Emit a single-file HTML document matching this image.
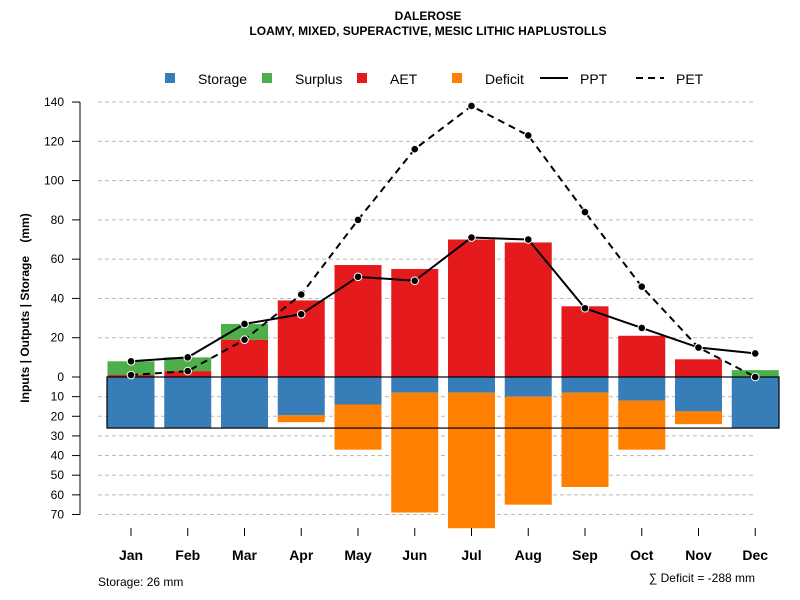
<!DOCTYPE html>
<html><head><meta charset="utf-8"><style>
body{margin:0;background:#fff;}
svg{display:block;font-family:"Liberation Sans",sans-serif;}
</style></head><body>
<svg id="c" width="800" height="600"></svg>
<script>
const months=["Jan","Feb","Mar","Apr","May","Jun","Jul","Aug","Sep","Oct","Nov","Dec"];
const aet=[1,3,19,39,57,55,70,68.5,36,21,9,0];
const surplus=[7,7,8,0,0,0,0,0,0,0,0,3.5];
const storage=[26,26,26,19.5,14,8,8,10,8,12,17.5,26];
const deficit=[0,0,0,3.5,23,61,69,55,48,25,6.5,0];
const ppt=[8,10,27,32,51,49,71,70,35,25,15,12];
const pet=[1,3,19,42,80,116,138,123,84,46,15,0];
const posTicks=[0,20,40,60,80,100,120,140];
const negTicks=[10,20,30,40,50,60,70];
const NS="http://www.w3.org/2000/svg";
const svg=document.getElementById('c');
const y=v=>377-v*1.964;
const x=i=>131+i*56.75;
const bw=47;
function mk(t,a,p){const e=document.createElementNS(NS,t);for(const k in a)e.setAttribute(k,a[k]);(p||svg).appendChild(e);return e;}
function txt(s,a){const e=mk('text',a);e.textContent=s;return e;}
let t=txt("DALEROSE",{x:428,y:20,'text-anchor':'middle','font-size':12,'font-weight':'bold'});

t=txt("LOAMY, MIXED, SUPERACTIVE, MESIC LITHIC HAPLUSTOLLS",{x:428,y:35,'text-anchor':'middle','font-size':12,'font-weight':'bold'});

posTicks.concat(negTicks.map(v=>-v)).forEach(v=>{if(v===0)return;
 const g=mk('line',{x1:98,x2:756,y1:y(v),y2:y(v),stroke:'#bbb','stroke-dasharray':'4,3'});
 });
let ax=mk('line',{x1:80,x2:80,y1:y(140),y2:y(-70),stroke:'#000'});

posTicks.forEach(v=>{mk('line',{x1:72,x2:80,y1:y(v),y2:y(v),stroke:'#000'});
 const l=txt(String(v),{x:64,y:y(v)+4,'text-anchor':'end','font-size':12});
 });
negTicks.forEach(v=>{mk('line',{x1:72,x2:80,y1:y(-v),y2:y(-v),stroke:'#000'});
 const l=txt(String(v),{x:64,y:y(-v)+4,'text-anchor':'end','font-size':12});
 });
t=txt("Inputs | Outputs | Storage\u00a0\u00a0\u00a0\u00a0(mm)",{x:0,y:0,transform:'translate(29,308) rotate(-90)','text-anchor':'middle','font-size':12,'font-weight':'bold'});

months.forEach((m,i)=>{
 const x0=x(i)-bw/2;
 let r=mk('rect',{x:x0,y:y(aet[i]),width:bw,height:aet[i]*1.964,fill:'#e41a1c'});
 
 r=mk('rect',{x:x0,y:y(aet[i]+surplus[i]),width:bw,height:surplus[i]*1.964,fill:'#4daf4a'});
 
 r=mk('rect',{x:x0,y:y(0),width:bw,height:storage[i]*1.964,fill:'#377eb8'});
 
 r=mk('rect',{x:x0,y:y(-storage[i]),width:bw,height:deficit[i]*1.964,fill:'#ff7f00'});
 
 mk('line',{x1:x(i),x2:x(i),y1:528,y2:536,stroke:'#000'});
 const l=txt(m,{x:x(i),y:560,'text-anchor':'middle','font-size':14,'font-weight':'bold'});
 
});
let box=mk('rect',{x:107,y:y(0),width:672,height:26*1.964,fill:'none',stroke:'#000','stroke-width':1.2});

function line(arr,dash,name){
 const p=mk('polyline',{points:arr.map((v,i)=>x(i)+','+y(v)).join(' '),fill:'none',stroke:'#000','stroke-width':2,'stroke-dasharray':dash});
 
 arr.forEach((v,i)=>{const c=mk('circle',{cx:x(i),cy:y(v),r:3.8,fill:'#000',stroke:'#fff','stroke-width':1});
 });
}
line(pet,'7,5','pet');
line(ppt,'none','ppt');
const leg=[["Storage",'#377eb8',165,'sq'],["Surplus",'#4daf4a',262,'sq'],["AET",'#e41a1c',357,'sq'],["Deficit",'#ff7f00',452,'sq'],["PPT",'#000',540,'solid'],["PET",'#000',636,'dash']];
leg.forEach(([n,c,lx,k])=>{
 if(k==='sq'){const s=mk('rect',{x:lx,y:73,width:10,height:10,fill:c});
  const l=txt(n,{x:lx+33,y:84,'font-size':14});}
 else{const s=mk('line',{x1:lx,x2:lx+28,y1:78,y2:78,stroke:'#000','stroke-width':2,'stroke-dasharray':k==='dash'?'7,5':'none'});
  const l=txt(n,{x:lx+40,y:84,'font-size':14});}
});
t=txt("Storage: 26 mm",{x:98,y:586,'font-size':12});

t=txt("∑ Deficit = -288 mm",{x:755,y:582,'text-anchor':'end','font-size':12});

</script>
</body></html>
